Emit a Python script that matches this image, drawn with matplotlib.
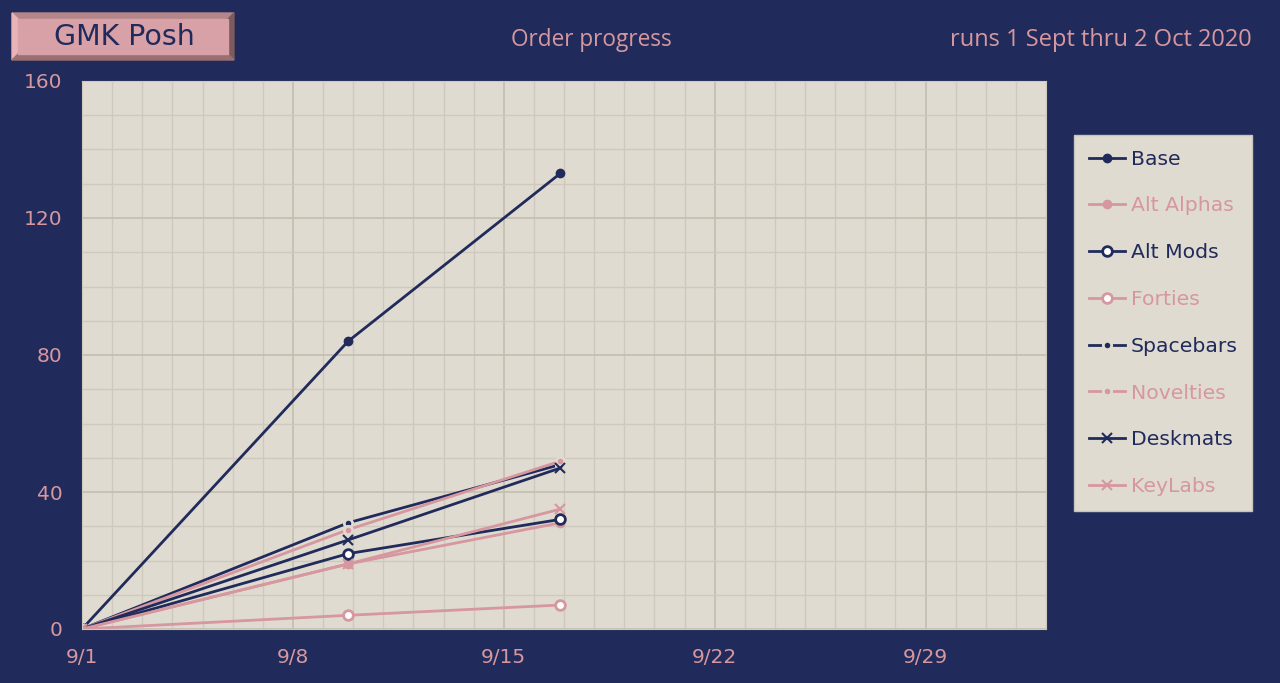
import matplotlib.pyplot as plt
import matplotlib.dates as mdates
from matplotlib.patches import Polygon
from datetime import datetime

navy = '#212b5b'
pink = '#d6979f'
paper = '#e0dbd1'

# data (snapshots taken in the evening)
dates = [datetime(2020, 9, 1), datetime(2020, 9, 9, 20), datetime(2020, 9, 16, 21)]
base = [0, 84, 133]
alt_alphas = [0, 19, 31]
alt_mods = [0, 22, 32]
forties = [0, 4, 7]
spacebars = [0, 31, 48]
novelties = [0, 29, 49]
deskmats = [0, 26, 47]
keylabs = [0, 19, 35]
xticks = [datetime(2020, 9, d) for d in (1, 8, 15, 22, 29)]

fig = plt.figure(figsize=(12.8, 6.83), dpi=100, facecolor=navy)
ax = fig.add_axes([82/1280, 54/683, 964/1280, 548/683])
ax.set_facecolor(paper)

dot = dict(marker='o', markersize=6)
ring = dict(marker='o', markersize=7, markerfacecolor='white', markeredgewidth=2)
gap = dict(marker='o', markersize=6, markeredgecolor=paper, markeredgewidth=2)
cross = dict(marker='x', markersize=6.5, markeredgewidth=1.5)

ax.plot(dates, base, color=navy, lw=2, label='Base', **dot)
ax.plot(dates, alt_alphas, color=pink, lw=2, label='Alt Alphas', **dot)
ax.plot(dates, alt_mods, color=navy, lw=2, label='Alt Mods', **ring)
ax.plot(dates, forties, color=pink, lw=2, label='Forties', **ring)
ax.plot(dates, spacebars, color=navy, lw=2, label='Spacebars', markerfacecolor=navy, **gap)
ax.plot(dates, novelties, color=pink, lw=2, label='Novelties', markerfacecolor=pink, **gap)
ax.plot(dates, deskmats, color=navy, lw=2, label='Deskmats', **cross)
ax.plot(dates, keylabs, color=pink, lw=2, label='KeyLabs', **cross)

ax.set_xlim(datetime(2020, 9, 1), datetime(2020, 10, 3))
ax.set_ylim(0, 160)
ax.set_xticks(xticks)
ax.xaxis.set_minor_locator(mdates.DayLocator())
ax.xaxis.set_major_formatter(mdates.DateFormatter('%-m/%-d'))
ax.set_yticks(range(0, 161, 40))
ax.set_yticks(range(0, 161, 10), minor=True)
ax.grid(True, which='major', color='#c4bdb0', lw=1.2)
ax.grid(True, which='minor', color='#cfc8bc', lw=1)
ax.set_axisbelow(True)
ax.tick_params(which='both', length=0, colors=pink, labelsize=14.5)
ax.tick_params(axis='x', pad=14)
ax.tick_params(axis='y', pad=14)
for s in ax.spines.values():
    s.set_color('#cfc8bc')

leg = fig.legend(loc='upper left', bbox_to_anchor=(1074/1280, 1 - 135/683), frameon=True,
                 facecolor=paper, edgecolor='#c9c4bb', framealpha=1, fancybox=False,
                 labelcolor='linecolor', fontsize=14.7, handlelength=1.8, handletextpad=0.25,
                 labelspacing=1.36, borderpad=0.72, borderaxespad=0)

# beveled title box
W, H = 1280, 683
def fp(pts):
    return [(x / W, 1 - y / H) for x, y in pts]
x0, y0, x1, y1 = 12, 13, 234, 60
b = 6
fig.patches.append(Polygon(fp([(x0, y0), (x1, y0), (x1 - b, y0 + b), (x0 + b, y0 + b)]), closed=True,
                           color='#b4868a', transform=fig.transFigure))
fig.patches.append(Polygon(fp([(x0, y0), (x0 + b, y0 + b), (x0 + b, y1 - b), (x0, y1)]), closed=True,
                           color='#e7b2b8', transform=fig.transFigure))
fig.patches.append(Polygon(fp([(x1, y0), (x1, y1), (x1 - b, y1 - b), (x1 - b, y0 + b)]), closed=True,
                           color='#7c5a5d', transform=fig.transFigure))
fig.patches.append(Polygon(fp([(x0, y1), (x1, y1), (x1 - b, y1 - b), (x0 + b, y1 - b)]), closed=True,
                           color='#9a6f72', transform=fig.transFigure))
fig.patches.append(Polygon(fp([(x0 + b, y0 + b), (x1 - b, y0 + b), (x1 - b, y1 - b), (x0 + b, y1 - b)]),
                           closed=True, color='#d8a1a7', transform=fig.transFigure))
fig.text(124 / W, 1 - 37 / H, 'GMK Posh', color=navy, fontsize=20.5, ha='center', va='center')

fig.text(591 / W, 1 - 40 / H, 'Order progress', color=pink, fontsize=16.3, ha='center', va='center',
         family='Open Sans')
fig.text(1252 / W, 1 - 40 / H, 'runs 1 Sept thru 2 Oct 2020', color=pink, fontsize=17,
         ha='right', va='center', family='Open Sans')

fig.savefig('out.png', dpi=100, facecolor=navy)
